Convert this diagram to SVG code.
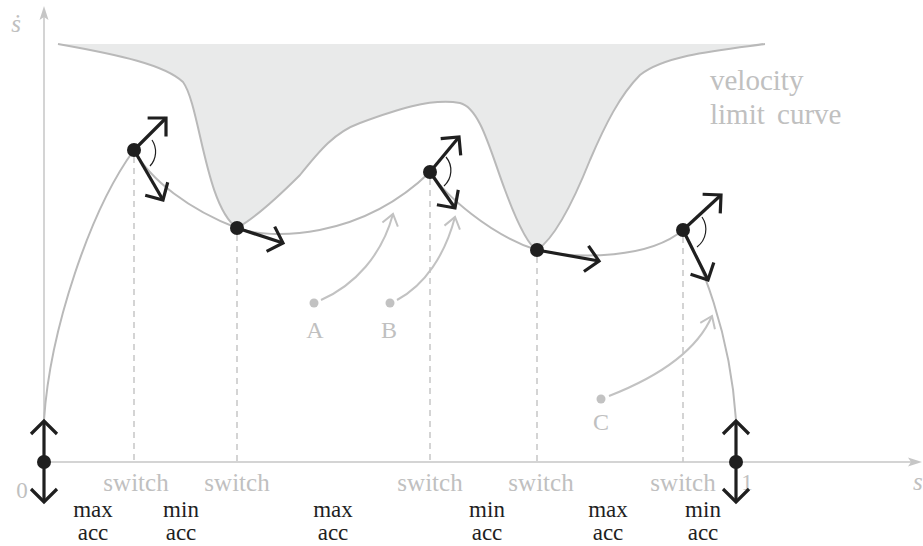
<svg xmlns="http://www.w3.org/2000/svg" width="923" height="546" viewBox="0 0 923 546">
<style>
.axis{stroke:#c6c6c6;stroke-width:1.5;fill:none}
.curve{stroke:#b9b9b9;stroke-width:2;fill:none}
.dash{stroke:#c6c6c6;stroke-width:1.5;stroke-dasharray:6 5;fill:none}
.arr{stroke:#1f1f1f;stroke-width:3.2;fill:none;marker-end:url(#head)}
.garr{stroke:#c2c2c2;stroke-width:2;fill:none;marker-end:url(#ghead)}
.ang{stroke:#1f1f1f;stroke-width:1.2;fill:none}
.node{fill:#1f1f1f}
.gt{font-family:"Liberation Serif","DejaVu Serif",serif;fill:#c0c0c0;text-anchor:middle}
.bt{font-family:"Liberation Serif","DejaVu Serif",serif;fill:#1f1f1f;text-anchor:middle;font-size:23px}
</style>
<defs>
<marker id="head" markerUnits="userSpaceOnUse" viewBox="-20 -20 40 40" markerWidth="40" markerHeight="40" refX="0" refY="0" orient="auto" overflow="visible">
<path d="M-13,-13 L0,0 L-13,13" fill="none" stroke="#1f1f1f" stroke-width="3.2"/>
</marker>
<marker id="ghead" markerUnits="userSpaceOnUse" viewBox="-20 -20 40 40" markerWidth="40" markerHeight="40" refX="0" refY="0" orient="auto" overflow="visible">
<path d="M-11,-8 L0,0 L-11,8" fill="none" stroke="#c2c2c2" stroke-width="2"/>
</marker>
</defs>
<rect width="923" height="546" fill="#ffffff"/>

<g id="limit-region">
<path d="M58,44 C120,55 165,65 183,82 C200,105 205,205 237,228 C255,218 275,200 300,175 C320,150 335,132 360,123 C395,110 430,98 460,103 C480,108 490,150 505,190 C518,225 528,245 537,250 C552,240 570,210 590,160 C605,125 620,95 640,75 C665,55 720,50 765,44 Z" fill="#e9eaea" stroke="none"/>
<path class="curve" d="M58,44 C120,55 165,65 183,82 C200,105 205,205 237,228 C255,218 275,200 300,175 C320,150 335,132 360,123 C395,110 430,98 460,103 C480,108 490,150 505,190 C518,225 528,245 537,250 C552,240 570,210 590,160 C605,125 620,95 640,75 C665,55 720,50 765,44"/>
<text class="gt" x="710" y="90" font-size="29" style="text-anchor:start">velocity</text>
<text class="gt" x="710" y="124" font-size="29" style="text-anchor:start" word-spacing="5">limit curve</text>
</g>

<g id="axes">
<line class="axis" x1="44" y1="462" x2="44" y2="14"/>
<path d="M44,6 L48.5,20 L44,17 L39.5,20 Z" fill="#c6c6c6"/>
<line class="axis" x1="44" y1="462" x2="914" y2="462"/>
<path d="M922,462 L908,457.5 L911,462 L908,466.5 Z" fill="#c6c6c6"/>
<text class="gt" x="16" y="32" font-size="25" font-style="italic">ṡ</text>
<text class="gt" x="913" y="490" font-size="25" font-style="italic" style="text-anchor:start">s</text>
<text class="gt" x="22" y="498" font-size="23">0</text>
<text class="gt" x="747" y="490" font-size="23">1</text>
</g>

<g id="switch-lines">
<line class="dash" x1="134" y1="157" x2="134" y2="462"/>
<line class="dash" x1="237" y1="235" x2="237" y2="462"/>
<line class="dash" x1="430" y1="179" x2="430" y2="462"/>
<line class="dash" x1="537" y1="257" x2="537" y2="462"/>
<line class="dash" x1="683" y1="237" x2="683" y2="462"/>
<text class="gt" x="136" y="491" font-size="25">switch</text>
<text class="gt" x="237" y="491" font-size="25">switch</text>
<text class="gt" x="430" y="491" font-size="25">switch</text>
<text class="gt" x="541" y="491" font-size="25">switch</text>
<text class="gt" x="683" y="491" font-size="25">switch</text>
</g>

<g id="trajectory">
<path class="curve" d="M44,420 C50,330 90,210 134,150"/>
<path class="curve" d="M134,150 C150,180 190,210 237,228"/>
<path class="curve" d="M237,228 C270,240 360,240 430,172"/>
<path class="curve" d="M430,172 C445,195 490,235 537,250"/>
<path class="curve" d="M537,250 C580,260 650,258 683,230"/>
<path class="curve" d="M683,230 C700,260 730,330 736,420"/>
</g>

<g id="probes">
<circle cx="314" cy="303" r="4.5" fill="#c2c2c2"/>
<circle cx="390" cy="303" r="4.5" fill="#c2c2c2"/>
<circle cx="601" cy="399" r="4.5" fill="#c2c2c2"/>
<path class="garr" d="M321,300 C355,285 382,255 393,214"/>
<path class="garr" d="M397,300 C425,285 445,255 455,217"/>
<path class="garr" d="M609,396 C650,380 695,355 712,316"/>
<text class="gt" x="315" y="338" font-size="24">A</text>
<text class="gt" x="389" y="338" font-size="24">B</text>
<text class="gt" x="601" y="430" font-size="24">C</text>
</g>

<g id="connectors">
<line class="arr" x1="44" y1="462" x2="44" y2="421"/>
<line class="arr" x1="44" y1="462" x2="44" y2="502"/>
<line class="arr" x1="134" y1="150" x2="166" y2="118"/>
<line class="arr" x1="134" y1="150" x2="163" y2="200"/>
<path class="ang" d="M152,140 A21,21 0 0 1 150,166"/>
<line class="arr" x1="237" y1="228" x2="283" y2="243"/>
<line class="arr" x1="430" y1="172" x2="459" y2="137"/>
<line class="arr" x1="430" y1="172" x2="455" y2="208"/>
<path class="ang" d="M446,157 A21,21 0 0 1 444,186"/>
<line class="arr" x1="537" y1="250" x2="599" y2="261"/>
<line class="arr" x1="683" y1="230" x2="721" y2="195"/>
<line class="arr" x1="683" y1="230" x2="708" y2="280"/>
<path class="ang" d="M702,217 A22,22 0 0 1 697,247"/>
<line class="arr" x1="736" y1="462" x2="736" y2="421"/>
<line class="arr" x1="736" y1="462" x2="736" y2="502"/>
</g>

<g id="n0"><circle class="node" cx="44" cy="462" r="7"/></g>
<g id="n1"><circle class="node" cx="134" cy="150" r="7"/></g>
<g id="n2"><circle class="node" cx="237" cy="228" r="7"/></g>
<g id="n3"><circle class="node" cx="430" cy="172" r="7"/></g>
<g id="n4"><circle class="node" cx="537" cy="250" r="7"/></g>
<g id="n5"><circle class="node" cx="683" cy="230" r="7"/></g>
<g id="n6"><circle class="node" cx="736" cy="462" r="7"/></g>

<g id="phases">
<text class="bt" x="93" y="517">max</text><text class="bt" x="93" y="540">acc</text>
<text class="bt" x="181" y="517">min</text><text class="bt" x="181" y="540">acc</text>
<text class="bt" x="333" y="517">max</text><text class="bt" x="333" y="540">acc</text>
<text class="bt" x="487" y="517">min</text><text class="bt" x="487" y="540">acc</text>
<text class="bt" x="608" y="517">max</text><text class="bt" x="608" y="540">acc</text>
<text class="bt" x="703" y="517">min</text><text class="bt" x="703" y="540">acc</text>
</g>
</svg>
